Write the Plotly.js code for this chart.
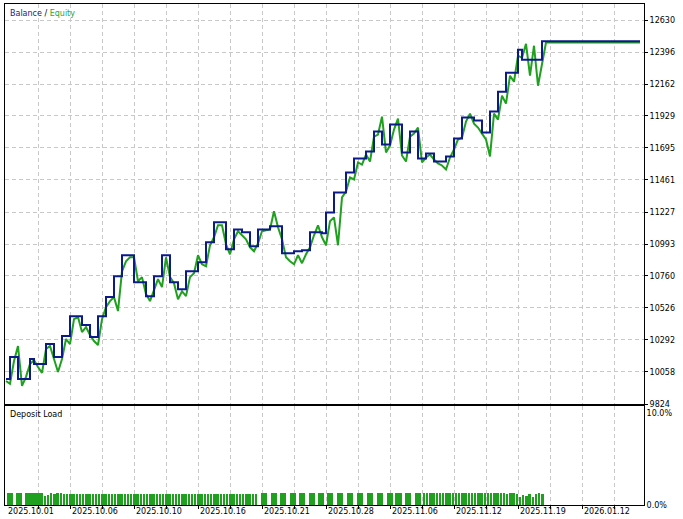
<!DOCTYPE html>
<html><head><meta charset="utf-8">
<script src="https://cdn.plot.ly/plotly-3.0.1.min.js"></script>
<style>html,body{margin:0;padding:0;background:#fff;overflow:hidden}#chart{width:683px;height:519px}</style>
</head><body><div id="chart"></div>
<script>
// Balance and equity, one value per deal slot
const balance = [10007,10167,10167,10007,10007,10007,10153,10116,10116,10116,
 10262,10262,10167,10167,10320,10320,10466,10466,10466,10401,
 10401,10313,10313,10466,10466,10605,10605,10758,10758,10911,
 10911,10911,10714,10714,10714,10612,10612,10758,10758,10911,
 10911,10714,10714,10663,10663,10794,10794,10794,10860,10860,
 11006,11006,11152,11152,11152,10955,10955,11100,11100,11079,
 11079,10977,10977,11100,11100,11100,11122,11122,11122,10926,
 10926,10926,10940,10940,10947,10947,11079,11079,11079,11071,
 11224,11224,11370,11370,11370,11516,11516,11618,11618,11618,
 11669,11669,11815,11815,11720,11720,11866,11866,11866,11662,
 11662,11815,11815,11618,11618,11655,11655,11596,11596,11596,
 11633,11633,11764,11764,11917,11917,11917,11895,11895,11808,
 11808,11961,11961,12106,12106,12245,12245,12245,12413,12340,
 12340,12340,12340,12340,12475,12475];
const equity = [9992,9971,10138,10248,9956,10022,10116,10145,10094,10051,
 10226,10248,10153,10058,10153,10299,10262,10444,10459,10350,
 10386,10328,10284,10255,10444,10532,10576,10605,10503,10794,
 10867,10896,10896,10721,10751,10627,10576,10663,10736,10678,
 10896,10751,10707,10590,10648,10612,10751,10780,10911,10845,
 10831,10984,11042,11130,11130,10991,10918,11028,11086,11057,
 11028,10969,10940,10998,11086,11093,11100,11232,11115,11028,
 10896,10867,10845,10911,10853,10918,10969,11057,11130,11042,
 10984,11159,11188,10984,11334,11377,11480,11465,11589,11574,
 11647,11596,11778,11793,11924,11662,11713,11829,11910,11640,
 11596,11778,11800,11844,11589,11625,11647,11611,11582,11567,
 11538,11625,11684,11757,11771,11888,11946,11873,11844,11800,
 11757,11633,11946,11902,12077,12019,12223,12179,12369,12354,
 12456,12223,12442,12150,12311,12466];
// end of the test period
const finalDeal = 158.5;
const finalBalance = 12475;
const finalEquity = 12466;

// Deposit load (%)
const loadWideX = [1.0,3.25,64.5,66.9,69.25,71.75,74,76.5,78.75,81,83.5,86,88.5,91,93.5,95.9,98.1,100.5,102.9];
const loadWideY = [1.3,1.3,1.3,1.3,1.3,1.3,1.3,1.3,1.3,1.3,1.3,1.3,1.3,1.3,1.3,1.3,1.3,1.3,1.3];
const loadMidX = [5.25,6.25,7.25];
const loadMidY = [1.3,1.3,1.3];
const loadThinX = [8.1,8.9,9.7,10.5,11.3,12.1,12.9,13.7,14.5,15.3,16.1,16.9,17.7,18.5,19.3,20.1,20.9,21.7,22.5,23.3,
 24.1,24.9,25.7,26.5,27.3,28.1,28.9,29.7,30.5,31.3,32.1,32.9,33.7,34.5,35.3,36.1,36.9,37.7,38.5,39.3,
 40.1,40.9,41.7,42.5,43.3,44.1,44.9,45.7,46.5,47.3,48.1,48.9,49.7,50.5,51.3,52.1,52.9,53.7,54.5,55.3,
 56.1,56.9,57.7,58.5,59.3,60.1,60.9,61.7,62.5,
 104.5,105.3,106.1,106.9,107.7,108.5,109.3,110.1,110.9,111.7,112.5,113.3,114.1,114.9,115.7,116.5,117.3,118.1,118.9,119.7,
 120.5,121.3,122.1,122.9,123.7,124.5,125.3,126.1,126.9,
 127.7,128.5,129.3,130.1,130.9,131.7,132.5,133.3,134.1];
const loadThinY = [1.3,1.3,1.0,1.1,1.3,1.2,1.3,1.3,1.2,1.2,1.2,1.2,1.2,1.2,1.2,1.2,1.2,1.2,1.2,1.2,
 1.2,1.2,1.2,1.2,1.2,1.2,1.2,1.2,1.2,1.2,1.2,1.2,1.2,1.2,1.2,1.2,1.2,1.2,1.2,1.2,
 1.2,1.2,1.2,1.2,1.2,1.2,1.2,1.2,1.2,1.2,1.2,1.2,1.2,1.2,1.2,1.2,1.2,1.2,1.2,1.2,
 1.2,1.2,1.2,1.2,1.2,1.2,1.2,1.2,1.2,
 1.3,1.3,1.3,1.3,1.3,1.3,1.3,1.3,1.3,1.3,1.3,1.3,1.3,1.3,1.3,1.3,1.3,1.3,1.3,1.3,
 1.3,1.3,1.3,1.3,1.3,1.3,1.2,1.3,1.3,
 1.2,0.9,1.1,1.0,1.2,0.9,1.2,1.3,1.2];

const priceTicks = [9824,10058,10292,10526,10760,10993,11227,11461,11695,11929,12162,12396,12630];
const loadTicks = [0,10];
const loadTickText = ['0.0%','10.0%'];
const gridDeals = [8,16,24,32,40,48,56,64,72,80,88,96,104,112,120,128,136,144,152];
const dateLabelDeals = [0,16,32,48,64,80,96,112,128,144];
const dateLabels = ['2025.10.01','2025.10.06','2025.10.10','2025.10.16','2025.10.21','2025.10.28','2025.11.06','2025.11.12','2025.11.19','2026.01.12'];

const BLUE = '#0c1a8a', GREEN = '#1fa01f';
const FONT = {family:'DejaVu Sans', size:8, color:'#000'};

const idx = balance.map((_, i) => i);
const xs = idx.concat([finalDeal]);

const traces = [
  {x: xs, y: equity.concat([finalEquity]), type:'scatter', mode:'lines', xaxis:'x2', yaxis:'y',
   line:{color:GREEN, width:2}, hoverinfo:'skip'},
  {x: xs, y: balance.concat([finalBalance]), type:'scatter', mode:'lines', xaxis:'x2', yaxis:'y',
   line:{color:BLUE, width:2, shape:'hv'}, hoverinfo:'skip'},
  {x: loadWideX, y: loadWideY, type:'bar', xaxis:'x', yaxis:'y2', width:1.55, marker:{color:GREEN, line:{width:0}}},
  {x: loadMidX, y: loadMidY, type:'bar', xaxis:'x', yaxis:'y2', width:0.85, marker:{color:GREEN, line:{width:0}}},
  {x: loadThinX, y: loadThinY, type:'bar', xaxis:'x', yaxis:'y2', width:0.58, marker:{color:GREEN, line:{width:0}}}
];

const gridCommon = {gridcolor:'#c8c8c8', gridwidth:1, griddash:'4px,3px'};
const xrange = [-0.25, 159.5];

const annotations = dateLabels.map((t, k) => ({
  text: t, x: dateLabelDeals[k], xref:'x', y:0, yref:'paper', yanchor:'middle', yshift:-6.5,
  xanchor:'left', showarrow:false, font:FONT
}));
annotations.push({text:'<span style="color:#1a1a8c">Balance</span> / <span style="color:#2aa82a">Equity</span>',
  x:0.005, xref:'paper', y:0.982, yref:'paper', xanchor:'left', yanchor:'middle', showarrow:false, font:FONT});
annotations.push({text:'Deposit Load', x:0.005, xref:'paper', y:0.181, yref:'paper', xanchor:'left', yanchor:'middle', showarrow:false, font:FONT});

const layout = {
  width:683, height:519,
  margin:{l:5, r:39, t:4, b:14, pad:0},
  paper_bgcolor:'#fff', plot_bgcolor:'#fff',
  showlegend:false, bargap:0,
  font:FONT,
  xaxis: Object.assign({anchor:'y2', domain:[0,1], range:xrange, tickmode:'array', tickvals:gridDeals,
    showticklabels:false, ticks:'outside', ticklen:3, tickcolor:'#000', showgrid:true,
    showline:true, linecolor:'#000', linewidth:1, mirror:true, zeroline:false, fixedrange:true}, gridCommon),
  xaxis2: Object.assign({anchor:'y', matches:'x', domain:[0,1], range:xrange, tickmode:'array', tickvals:gridDeals,
    showticklabels:false, ticks:'', showgrid:true,
    showline:true, linecolor:'#000', linewidth:1, mirror:true, zeroline:false}, gridCommon),
  yaxis: Object.assign({domain:[0.2016,1], range:[9824,12747], side:'right', tickmode:'array', tickvals:priceTicks,
    ticktext:priceTicks.map(String), ticks:'outside', ticklen:3, tickcolor:'#000', showgrid:true,
    showline:true, linecolor:'#000', linewidth:1, mirror:true, zeroline:false, tickfont:FONT}, gridCommon),
  yaxis2: {domain:[0,0.1976], range:[0,10.76], side:'right', tickmode:'array', tickvals:loadTicks,
    ticktext:loadTickText, ticks:'', showgrid:false,
    showline:true, linecolor:'#000', linewidth:1, mirror:true, zeroline:false, tickfont:FONT},
  annotations: annotations
};

Plotly.newPlot('chart', traces, layout, {displayModeBar:false, staticPlot:true});
</script></body></html>
